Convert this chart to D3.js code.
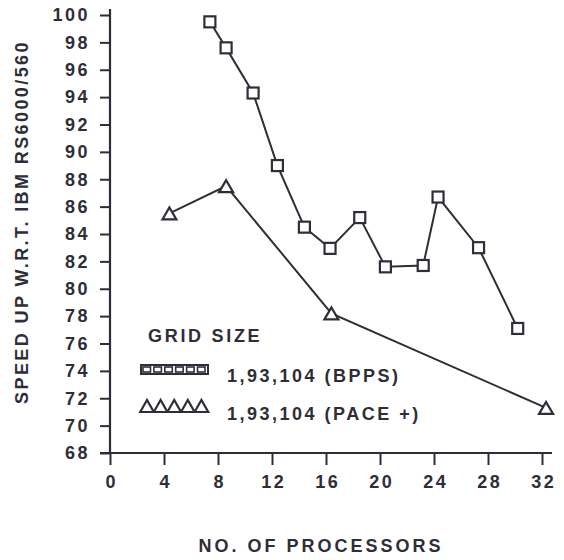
<!DOCTYPE html>
<html><head><meta charset="utf-8">
<script src="https://cdn.jsdelivr.net/npm/d3@7"></script>
<style>
html,body{margin:0;padding:0;background:#fff;}
text{font-family:"Liberation Sans",Arial,sans-serif;font-weight:bold;fill:#2e2e38;}
</style></head>
<body><svg id="c" width="564" height="560"></svg>
<script>
// Data
const bppsProcs   = [7.4, 8.6, 10.6, 12.4, 14.4, 16.3, 18.5, 20.4, 23.2, 24.3, 27.3, 30.2];
const bppsSpeedup = [99.5, 97.6, 94.3, 89.0, 84.5, 82.95, 85.2, 81.6, 81.7, 86.7, 83.0, 77.1];
const paceProcs   = [4.4, 8.6, 16.4, 32.3];
const paceSpeedup = [85.5, 87.5, 78.2, 71.3];
const xTicks = [0, 4, 8, 12, 16, 20, 24, 28, 32];
const yTicks = [68, 70, 72, 74, 76, 78, 80, 82, 84, 86, 88, 90, 92, 94, 96, 98, 100];
const xTitle = "NO. OF PROCESSORS";
const yTitle = "SPEED UP W.R.T. IBM RS6000/560";
const legendTitle = "GRID SIZE";
const seriesNames = ["1,93,104 (BPPS)", "1,93,104 (PACE +)"];

const ink = "#2e2e38";
const svg = d3.select("#c");
const x = d3.scaleLinear().domain([0, 32]).range([110, 542]);
const y = d3.scaleLinear().domain([68, 100]).range([453, 15]);

// axes
const ya = svg.append("g").attr("transform", "translate(110,0)")
  .call(d3.axisLeft(y).tickValues(yTicks).tickSize(10).tickPadding(10).tickSizeOuter(0));
ya.select(".domain").remove();
ya.selectAll("line").attr("stroke", ink).attr("stroke-width", 2);
ya.selectAll("text").style("font-size", "18px").style("letter-spacing", "2.5px").attr("fill", ink);

const xa = svg.append("g").attr("transform", "translate(0,453)")
  .call(d3.axisBottom(x).tickValues(xTicks).tickSize(12).tickPadding(10).tickSizeOuter(0));
xa.select(".domain").remove();
xa.selectAll("line").attr("stroke", ink).attr("stroke-width", 2);
xa.selectAll("text").style("font-size", "18px").style("letter-spacing", "2.5px").attr("fill", ink).attr("dx", "1.25px");

svg.append("line").attr("x1", 110).attr("x2", 110).attr("y1", 9).attr("y2", 454)
  .attr("stroke", ink).attr("stroke-width", 2.2);
svg.append("line").attr("x1", 100).attr("x2", 552).attr("y1", 453).attr("y2", 453)
  .attr("stroke", ink).attr("stroke-width", 2.2);

// titles
svg.append("text").attr("x", 321).attr("y", 552).attr("text-anchor", "middle")
  .style("font-size", "18px").style("letter-spacing", "3px").text(xTitle);
svg.append("text").attr("transform", "translate(28,222) rotate(-90)").attr("text-anchor", "middle")
  .style("font-size", "18px").style("letter-spacing", "2.4px").text(yTitle);

// lines
const bpps = bppsProcs.map((p, i) => [p, bppsSpeedup[i]]);
const pace = paceProcs.map((p, i) => [p, paceSpeedup[i]]);
const line = d3.line().x(d => x(d[0])).y(d => y(d[1]));
svg.append("path").attr("d", line(bpps)).attr("fill", "none").attr("stroke", ink).attr("stroke-width", 2);
svg.append("path").attr("d", line(pace)).attr("fill", "none").attr("stroke", ink).attr("stroke-width", 2);

// markers
const sq = 11;
svg.selectAll("rect.sq").data(bpps).join("rect").attr("class", "sq")
  .attr("x", d => x(d[0]) - sq / 2).attr("y", d => y(d[1]) - sq / 2)
  .attr("width", sq).attr("height", sq)
  .attr("fill", "#fff").attr("stroke", ink).attr("stroke-width", 2.2);
const tri = (cx, cy, w, h) => `M${cx - w / 2},${cy + h / 2}L${cx},${cy - h / 2}L${cx + w / 2},${cy + h / 2}Z`;
svg.selectAll("path.tri").data(pace).join("path").attr("class", "tri")
  .attr("d", d => tri(x(d[0]), y(d[1]), 14, 12))
  .attr("fill", "#fff").attr("stroke", ink).attr("stroke-width", 2.2);

// legend
svg.append("text").attr("x", 148).attr("y", 342).style("font-size", "18px").style("letter-spacing", "2.7px").text(legendTitle);
const lg = svg.append("g");
lg.append("rect").attr("x", 141).attr("y", 365).attr("width", 67).attr("height", 9)
  .attr("fill", "#fff").attr("stroke", ink).attr("stroke-width", 2);
d3.range(6).forEach(i => {
  lg.append("rect").attr("x", 143 + i * 10.9).attr("y", 367).attr("width", 7.5).attr("height", 5)
    .attr("fill", "#fff").attr("stroke", ink).attr("stroke-width", 1.6);
});
d3.range(5).forEach(i => {
  lg.append("path").attr("d", tri(147 + i * 13.6, 406, 13.6, 12))
    .attr("fill", "#fff").attr("stroke", ink).attr("stroke-width", 2.2);
});
lg.append("text").attr("x", 227).attr("y", 382).style("font-size", "18px").style("letter-spacing", "2.5px").text(seriesNames[0]);
lg.append("text").attr("x", 227).attr("y", 420).style("font-size", "18px").style("letter-spacing", "2.5px").text(seriesNames[1]);
</script></body></html>
